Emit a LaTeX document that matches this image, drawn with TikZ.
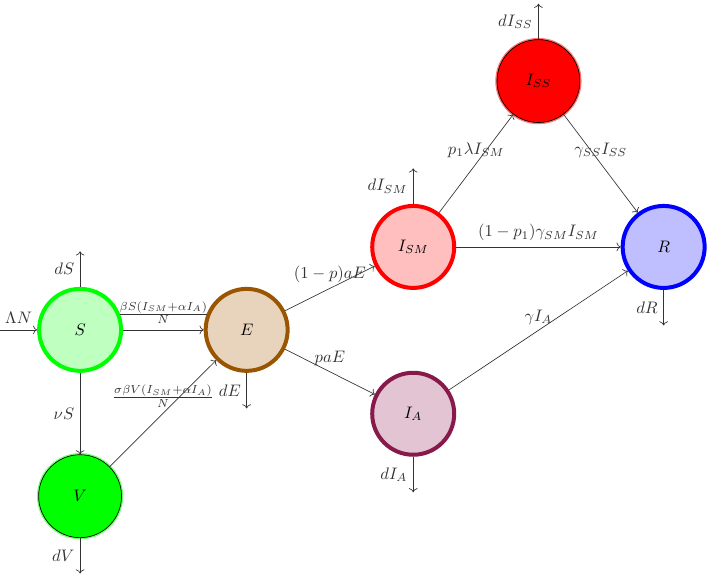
\documentclass[tikz,border=0pt]{standalone}
\usepackage{amsmath}
\usetikzlibrary{arrows.meta, positioning, calc}

\definecolor{Ering}{RGB}{153,85,0}
\definecolor{Efill}{RGB}{232,212,188}
\definecolor{IAring}{RGB}{135,25,75}
\definecolor{IAfill}{RGB}{226,196,210}

\begin{document}
\begin{tikzpicture}[
  node distance=1.7cm,
  comp/.style={circle, minimum size=1.73cm, inner sep=0pt, line width=2.4pt},
  glow/.style={circle, minimum size=1.75cm, inner sep=0pt, draw=black, thin,
               preaction={draw=#1!55, line width=2pt}},
  flow/.style={->, black!80}
]
  \useasboundingbox (0,0) rectangle (14.96,-12.17);

  \node[comp, draw=green, fill=green!25] (S) at (1.69,-6.96) {$S$};
  \node[comp, draw=Ering, fill=Efill, right=1.7cm of S] (E) {$E$};
  \node[glow=green, fill=green, below=1.72cm of S] (V) {$V$};
  \node[comp, draw=red, fill=red!25, right=1.7cm of E, yshift=1.75cm] (ISM) {$I_{SM}$};
  \node[comp, draw=IAring, fill=IAfill, right=1.7cm of E, yshift=-1.77cm] (IA) {$I_A$};
  \node[comp, draw=blue, fill=blue!25, right=3.47cm of ISM] (R) {$R$};
  \node[glow=red, fill=red] (ISS) at ($(ISM)!0.5!(R)+(0,3.5)$) {$I_{SS}$};

  % recruitment
  \coordinate[left=0.78cm of S] (in);
  \draw[flow] (in) -- node[above]{$\Lambda N$} (S);

  % natural deaths
  \foreach \n/\lab in {S/S, ISM/I_{SM}, ISS/I_{SS}}{
    \coordinate[above=0.75cm of \n] (\n out);
    \draw[flow] (\n) -- node[left]{$d\lab$} (\n out);
  }
  \foreach \n/\lab in {E/E, V/V, IA/I_A, R/R}{
    \coordinate[below=0.75cm of \n] (\n out);
    \draw[flow] (\n) -- node[left]{$d\lab$} (\n out);
  }

  \draw[flow] (S) -- node[above]{$\frac{\beta S(I_{SM}+\alpha I_A)}{N}$} (E);
  \draw[flow] (S) -- node[left]{$\nu S$} (V);
  \draw[flow] (V) -- node[above]{$\frac{\sigma\beta V(I_{SM}+\alpha I_A)}{N}$} (E);
  \draw[flow] (E) -- node[above]{$(1-p)aE$} (ISM);
  \draw[flow] (E) -- node[above]{$paE$} (IA);
  \draw[flow] (ISM) -- node[above]{$p_1\lambda I_{SM}$} (ISS);
  \draw[flow] (ISS) -- node[above]{$\gamma_{SS}I_{SS}$} (R);
  \draw[flow] (ISM) -- node[above]{$(1-p_1)\gamma_{SM}I_{SM}$} (R);
  \draw[flow] (IA) -- node[above]{$\gamma I_A$} (R);
\end{tikzpicture}
\end{document}
